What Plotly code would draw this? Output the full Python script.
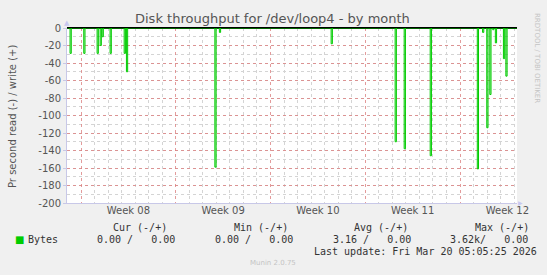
import plotly.graph_objects as go
from datetime import datetime, timedelta

# ---- data ----
spike_times = [
    "2026-02-15 04:30", "2026-02-16 04:50", "2026-02-17 04:30", "2026-02-17 09:50",
    "2026-02-17 13:20", "2026-02-18 03:30", "2026-02-19 04:30", "2026-02-19 08:30",
    "2026-02-25 21:20", "2026-02-26 05:20", "2026-03-06 11:30", "2026-03-11 05:00",
    "2026-03-11 21:00", "2026-03-13 19:10", "2026-03-17 06:40", "2026-03-17 16:00",
    "2026-03-17 23:30", "2026-03-18 04:50", "2026-03-18 10:00", "2026-03-18 14:40",
    "2026-03-19 05:00", "2026-03-19 09:20",
]
read_values = [
    -29, -29, -29, -20,
    -10, -29, -29, -50,
    -159, -5, -18, -130,
    -138, -146, -161, -5,
    -114, -76, -2, -17,
    -35, -55,
]
spike_hours = 2.2  # width of one sample step seen in the picture

x_start = "2026-02-14 23:07"
x_end = "2026-03-20 05:05"

week_starts = ["2026-02-16", "2026-02-23", "2026-03-02", "2026-03-09", "2026-03-16"]
week_labels = ["Week 08", "Week 09", "Week 10", "Week 11", "Week 12"]

y_ticks = [0, -20, -40, -60, -80, -100, -120, -140, -160, -180, -200]
y_tick_labels = ["0", "-20", "-40", "-60", "-80", "-100", "-120", "-140", "-160", "-180", "-200"]

col_headers = ["Cur (-/+)", "Min (-/+)", "Avg (-/+)", "Max (-/+)"]
col_values = ["0.00 /   0.00", "0.00 /   0.00", "3.16 /   0.00", "3.62k/   0.00"]
series_name = "Bytes"
last_update = "Last update: Fri Mar 20 05:05:25 2026"
munin_version = "Munin 2.0.75"

# ---- build step series (zero between spikes) ----
fmt = "%Y-%m-%d %H:%M"
xs, ys = [datetime.strptime(x_start, fmt)], [0]
for t, v in zip(spike_times, read_values):
    t0 = datetime.strptime(t, fmt)
    t1 = t0 + timedelta(hours=spike_hours)
    xs += [t0, t0, t1, t1]
    ys += [0, v, v, 0]
xs.append(datetime.strptime(x_end, fmt))
ys.append(0)

GREEN = "#00cc00"
fig = go.Figure()
fig.add_trace(go.Scatter(
    x=xs, y=ys, mode="lines", line=dict(color=GREEN, width=1),
    fill="tozeroy", fillcolor="rgba(0,204,0,0.25)", showlegend=False, hoverinfo="skip",
    xaxis="x", yaxis="y",
))
mid_weeks = [datetime.strptime(w, "%Y-%m-%d") + timedelta(days=3.5) for w in week_starts]
fig.add_trace(go.Scatter(x=mid_weeks, y=[None] * len(mid_weeks), xaxis="x2", yaxis="y",
                         showlegend=False, hoverinfo="skip"))

TICKFONT = dict(family="DejaVu Sans", size=10, color="#555555")
MONO = "DejaVu Sans Mono"

# plot area in pixels: x 67..517, y 28..203
PL, PR, PT, PB = 67, 517, 28, 203

def px(x):
    return (x - PL) / (PR - PL)

def py(y):
    return (PB - y) / (PB - PT)

fig.update_layout(
    width=547, height=275,
    margin=dict(l=PL, r=547 - PR, t=PT, b=275 - PB),
    paper_bgcolor="#f0f0f0", plot_bgcolor="#ffffff",
    showlegend=False,
    xaxis=dict(
        type="date", range=[x_start, x_end],
        tick0=week_starts[0], dtick=7 * 86400000,
        showticklabels=False, ticks="",
        showgrid=True, gridcolor="rgba(220,130,130,0.8)", griddash="dot", gridwidth=1,
        minor=dict(dtick=86400000, tick0=week_starts[0], showgrid=True,
                   gridcolor="#d4d4d4", griddash="dot", gridwidth=1),
        showline=True, linecolor="#c8c8e8", linewidth=1,
        zeroline=False, fixedrange=True,
    ),
    xaxis2=dict(
        type="date", range=[x_start, x_end], overlaying="x", side="bottom",
        tickvals=mid_weeks, ticktext=week_labels, ticks="",
        tickfont=TICKFONT, showgrid=False, zeroline=False, showline=False,
    ),
    yaxis=dict(
        range=[-200, 0], tickvals=y_ticks, ticktext=y_tick_labels,
        tickfont=TICKFONT, ticks="outside", ticklen=3, tickcolor="#c8c8e8",
        showgrid=True, gridcolor="rgba(220,130,130,0.8)", griddash="dot", gridwidth=1,
        minor=dict(dtick=10, showgrid=True, gridcolor="#d4d4d4", griddash="dot", gridwidth=1),
        showline=True, linecolor="#c8c8e8", linewidth=1,
        zeroline=True, zerolinecolor="#000000", zerolinewidth=2,
        fixedrange=True,
    ),
)

def A(text, x, y, size=10, family="DejaVu Sans", color="#555555", anchor="center", angle=0):
    return dict(text=text, x=px(x), y=py(y), xref="paper", yref="paper",
                xanchor=anchor, yanchor="middle", showarrow=False, textangle=angle,
                font=dict(family=family, size=size, color=color))

def nb(s):
    return s.replace(" ", "\u00a0")

ann = [
    A("Disk throughput for /dev/loop4 - by month", 272.5, 18.5, size=13),
    A("Pr second read (-) / write (+)", 12, 117, size=10, angle=-90),
    A("RRDTOOL / TOBI OETIKER", 537, 58, size=7, color="#c4c4c4", angle=90),
    A("▲", 67, 23, size=7, color="#c8c8f0"),
    A("▶", 520, 202.5, size=6, color="#c8c8f0"),
]
header_x = [111, 232, 352, 473]
value_x = [95, 213, 331, 448]
for hx, h in zip(header_x, col_headers):
    ann.append(A(nb(h), hx, 227, family=MONO, color="#333333", anchor="left"))
for vx, v in zip(value_x, col_values):
    ann.append(A(nb(v), vx, 239.5, family=MONO, color="#333333", anchor="left"))
ann.append(A("■", 13, 239.5, color=GREEN, anchor="left"))
ann.append(A(series_name, 26, 239.5, family=MONO, color="#333333", anchor="left"))
ann.append(A(nb(last_update), 312, 251.7, family=MONO, color="#333333", anchor="left"))
ann.append(A(munin_version, 272.5, 263, size=7, color="#c4c4c4"))
fig.update_layout(annotations=ann)

fig.write_html("out.html")
